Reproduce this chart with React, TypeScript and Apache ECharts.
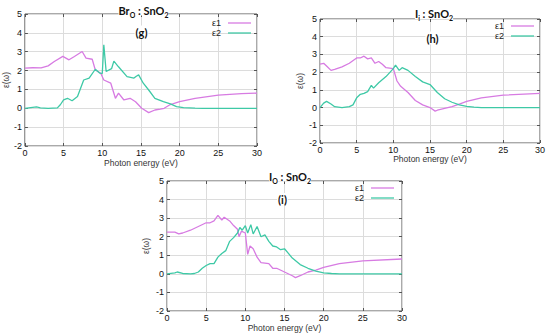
import React, { useEffect, useRef } from "react";
import * as echarts from "echarts";

// Panel (g) Br_O : SnO2
const gE1x = [0, 1, 2.1, 3, 3.8, 4.9, 5.7, 6.4, 7.4, 7.9, 8.7, 9.1, 9.8, 10.2, 11.1, 11.7, 12.1, 12.8, 13.6, 14.3, 15.1, 16, 16.8, 17.5, 18, 18.8, 20, 22, 25, 28, 30];
const gE1y = [2.13, 2.15, 2.14, 2.25, 2.48, 2.75, 2.57, 2.75, 3.01, 2.66, 2.6, 2.03, 1.86, 1.5, 1.33, 0.53, 0.8, 0.44, 0.53, 0.35, 0.0, -0.23, -0.09, -0.05, 0.0, 0.2, 0.35, 0.52, 0.7, 0.78, 0.8];
const gE2x = [0, 1, 1.5, 2, 3, 4.2, 4.6, 5, 5.5, 6.1, 6.8, 7.6, 8.3, 9.1, 9.7, 10.0, 10.2, 10.5, 11.2, 11.5, 12.1, 13.2, 14.1, 14.4, 14.7, 15.3, 16, 16.8, 17.9, 18.8, 19.6, 20.5, 22, 23, 30];
const gE2y = [0, 0.05, 0.07, 0.02, 0, 0.02, 0.2, 0.45, 0.53, 0.4, 0.62, 1.5, 1.6, 2.07, 1.86, 1.85, 3.37, 1.95, 2.1, 2.5, 2.2, 1.68, 1.6, 1.7, 1.77, 1.33, 0.97, 0.53, 0.35, 0.23, 0.09, 0.04, 0.01, 0, 0];

// Panel (h) I_i : SnO2
const hE1x = [0, 0.5, 1, 1.5, 2, 3, 4, 5, 5.5, 6, 6.5, 7, 7.5, 8, 8.5, 9, 10, 10.5, 11, 12, 13, 14, 15, 15.7, 16, 17, 18, 19, 20, 22, 25, 30];
const hE1y = [2.45, 2.5, 2.3, 2.1, 2.15, 2.3, 2.5, 2.8, 2.8, 2.9, 2.75, 2.8, 2.5, 2.6, 2.45, 2.25, 2.2, 1.5, 1.2, 0.85, 0.4, 0.15, 0.0, -0.2, -0.15, -0.05, 0.05, 0.2, 0.35, 0.55, 0.7, 0.8];
const hE2x = [0, 0.5, 0.9, 1.5, 2, 3, 4, 4.5, 5, 5.5, 6, 6.5, 7, 7.3, 8, 9, 10, 10.3, 10.8, 11.2, 12, 13, 14, 15, 16, 17, 18, 19, 20, 21, 22, 30];
const hE2y = [0, 0.25, 0.35, 0.2, 0.05, 0, 0.05, 0.15, 0.55, 0.75, 0.8, 0.9, 1.25, 1.1, 1.4, 1.75, 2.2, 2.4, 2.1, 2.25, 2.1, 1.75, 1.45, 1.3, 0.85, 0.5, 0.3, 0.15, 0.07, 0.03, 0, 0];

// Panel (i) I_O : SnO2
const iE1x = [0, 1, 1.5, 2, 3, 4, 5, 5.5, 6, 6.5, 7, 7.3, 8, 8.5, 9, 9.2, 9.5, 10, 10.3, 10.6, 11, 11.5, 12, 13, 13.5, 14, 15, 16, 16.4, 17, 18, 19, 20, 22, 25, 30];
const iE1y = [2.25, 2.25, 2.15, 2.2, 2.35, 2.55, 2.75, 2.75, 2.85, 3.15, 2.9, 3.05, 2.85, 2.6, 2.4, 2.0, 2.3, 2.2, 1.05, 1.5, 1.35, 0.9, 0.6, 0.55, 0.3, 0.3, 0.1, -0.1, -0.2, -0.1, 0.1, 0.2, 0.35, 0.55, 0.7, 0.8];
const iE2x = [0, 1, 1.3, 2, 3, 3.5, 4, 4.5, 5, 5.5, 6, 6.5, 7, 7.5, 8, 8.5, 9, 9.3, 9.6, 10, 10.3, 10.7, 11, 11.5, 12, 12.5, 13, 13.5, 14, 14.5, 15, 15.5, 16, 17, 18, 19, 20, 21, 22, 30];
const iE2y = [0, 0.05, 0.1, 0.02, 0, 0.02, 0.1, 0.3, 0.45, 0.55, 0.55, 0.9, 1.1, 1.25, 1.75, 1.95, 2.2, 2.5, 2.35, 2.6, 2.2, 2.65, 2.15, 2.55, 2.0, 2.1, 1.75, 1.5, 1.45, 1.3, 1.35, 1.1, 0.85, 0.5, 0.3, 0.15, 0.05, 0.02, 0, 0];

const seriesNames = ["ε1", "ε2"];
const panelTags = ["(g)", "(h)", "(i)"];
const xTicks = { min: 0, max: 30, interval: 5 };
const yTicks = { min: -2, max: 5, interval: 1 };

const C1 = "#d77be2";
const C2 = "#3ec9a6";
const FONT = "Liberation Sans";
const TFONT = "Lato";

const zip = (xs: number[], ys: number[]) => xs.map((x, i) => [x, ys[i]]);

export default function App() {
  const ref = useRef<HTMLDivElement>(null);
  useEffect(() => {
    if (!ref.current) return;
    const chart = echarts.init(ref.current, undefined, { renderer: "svg" });

    const grids = [
      { left: 22, top: 14, width: 235, height: 132 },
      { left: 320, top: 19, width: 220, height: 124 },
      { left: 167, top: 181, width: 235, height: 130 },
    ];
    const yGaps = [14, 16, 17];
    const xGaps = [12, 11, 12];
    const tick = { show: true, inside: true, length: 3, lineStyle: { color: "#555" } };

    const xAxes: any[] = [];
    const yAxes: any[] = [];
    grids.forEach((_, gi) => {
      xAxes.push({
        type: "value", gridIndex: gi, ...xTicks, position: "bottom",
        name: "Photon energy (eV)", nameLocation: "middle", nameGap: xGaps[gi],
        nameTextStyle: { fontFamily: FONT, fontSize: 8.5, color: "#333" },
        axisLine: { show: false, onZero: false },
        axisTick: tick,
        axisLabel: { fontFamily: FONT, fontSize: 9, color: "#111", margin: 2 },
        splitLine: { show: true, lineStyle: { color: "#dcdcdc", width: 1 } },
      });
      xAxes.push({
        type: "value", gridIndex: gi, ...xTicks, position: "top",
        axisLine: { show: false, onZero: false },
        axisTick: tick,
        axisLabel: { show: false }, splitLine: { show: false },
      });
      yAxes.push({
        type: "value", gridIndex: gi, ...yTicks, position: "left",
        name: "ε(ω)", nameLocation: "middle", nameGap: yGaps[gi], nameRotate: 90,
        nameTextStyle: { fontFamily: FONT, fontSize: 8.5, color: "#333" },
        axisLine: { show: false, onZero: false },
        axisTick: tick,
        axisLabel: { fontFamily: FONT, fontSize: 9, color: "#111", margin: 3 },
        splitLine: { show: true, lineStyle: { color: "#dcdcdc", width: 1 } },
      });
      yAxes.push({
        type: "value", gridIndex: gi, ...yTicks, position: "right",
        axisLine: { show: false, onZero: false },
        axisTick: tick,
        axisLabel: { show: false }, splitLine: { show: false },
      });
    });

    const panelData = [
      [zip(gE1x, gE1y), zip(gE2x, gE2y)],
      [zip(hE1x, hE1y), zip(hE2x, hE2y)],
      [zip(iE1x, iE1y), zip(iE2x, iE2y)],
    ];
    const series: any[] = [];
    panelData.forEach((pd, gi) => {
      pd.forEach((d, si) => {
        series.push({
          type: "line", name: seriesNames[si], data: d,
          xAxisIndex: gi * 2, yAxisIndex: gi * 2,
          showSymbol: false, symbol: "none",
          lineStyle: { color: si === 0 ? C1 : C2, width: 1.3 },
          itemStyle: { color: si === 0 ? C1 : C2 },
        });
      });
    });

    const legendPos = [
      { right: 550 - 251, top: 18 },
      { right: 550 - 534, top: 21 },
      { right: 550 - 394, top: 183 },
    ];
    const legends = legendPos.map((p) => ({
      ...p, orient: "vertical", align: "right", padding: 0, itemGap: 0,
      data: seriesNames, icon: "rect", itemWidth: 23, itemHeight: 1.3,
      selectedMode: false,
      textStyle: { fontFamily: FONT, fontSize: 9, color: "#222", lineHeight: 10, padding: [0, 2, 0, 0] },
    }));

    const rich = {
      a: { fontFamily: TFONT, fontSize: 11, fontWeight: "bold", fill: "#111", lineHeight: 14, verticalAlign: "middle", backgroundColor: "#fff" },
      s: { fontFamily: TFONT, fontSize: 7, fontWeight: "bold", fill: "#111", lineHeight: 14, padding: [9, 0, 0, 0], backgroundColor: "#fff" },
    };
    const titles = [
      { x: 143.5, y: 10, text: "{a|Br}{s|O}{a| : SnO}{s|2}" },
      { x: 434, y: 13.5, text: "{a|I}{s|i}{a| : SnO}{s|2}" },
      { x: 290, y: 176, text: "{a|I}{s|O}{a| : SnO}{s|2}" },
    ];
    const tags = [
      { x: 141.5, y: 32 },
      { x: 432.5, y: 38 },
      { x: 282.5, y: 199.5 },
    ];
    const graphic: any[] = [];
    titles.forEach((t) => {
      graphic.push({
        type: "text", x: t.x, y: t.y, z: 100,
        style: { text: t.text, rich, align: "center", verticalAlign: "middle" },
      });
    });
    tags.forEach((t, i) => {
      graphic.push({
        type: "text", x: t.x, y: t.y, z: 100,
        style: {
          text: panelTags[i], fontFamily: TFONT, fontSize: 11, fontWeight: "bold", fill: "#111",
          align: "center", verticalAlign: "middle", backgroundColor: "#fff", padding: [1, 1],
        },
      });
    });

    chart.setOption({
      animation: false,
      backgroundColor: "#fff",
      grid: grids.map((g) => ({ ...g, show: true, borderColor: "#555", borderWidth: 1, backgroundColor: "transparent" })),
      xAxis: xAxes,
      yAxis: yAxes,
      legend: legends,
      series,
      graphic,
    });
    return () => chart.dispose();
  }, []);
  return (
    <div
      ref={ref}
      style={{ position: "fixed", left: 0, top: 0, width: 550, height: 334, background: "#fff" }}
    />
  );
}
